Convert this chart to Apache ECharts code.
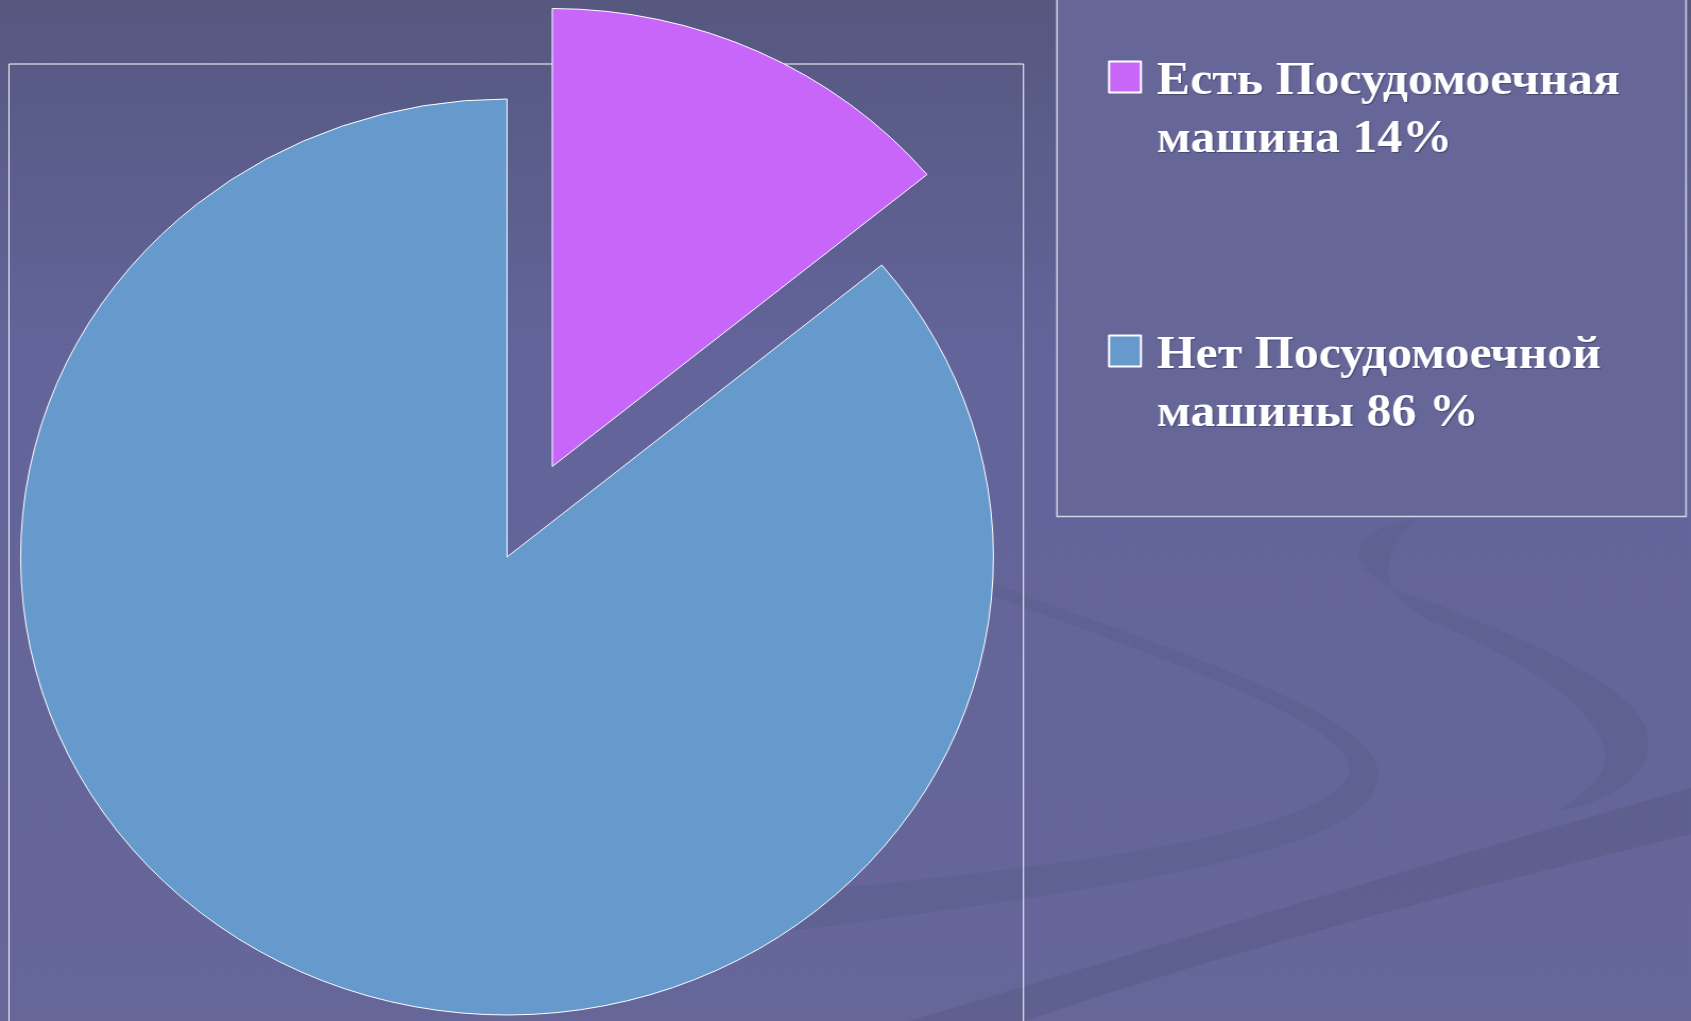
<!DOCTYPE html>
<html>
<head>
<meta charset="utf-8">
<script src="https://cdn.jsdelivr.net/npm/echarts@6/dist/echarts.min.js"></script>
<style>
  html, body { margin: 0; padding: 0; overflow: hidden; background: #62649a; }
  /* исходный слайд растянут по горизонтали, поэтому круг выглядит эллипсом */
  #chart { width: 1592px; height: 1021px; transform: scaleX(1.062); transform-origin: 0 0; }
</style>
</head>
<body>
<div id="chart"></div>
<script>
// данные диаграммы
const categories = ['Есть Посудомоечная машина', 'Нет Посудомоечной машины'];
const values = [14, 86];
const legendLines = [['Есть Посудомоечная', 'машина 14%'], ['Нет Посудомоечной', 'машины 86 %']];
const colors = ['#c966fa', '#6699cc'];

const sx = 1.062; // горизонтальное растяжение
const px = (x) => x / sx;

const myChart = echarts.init(document.getElementById('chart'), null, { renderer: 'canvas' });

const labelFont = {
  color: '#ffffff',
  fontFamily: 'Liberation Serif',
  fontWeight: 'bold',
  fontSize: 47,
  lineHeight: 58,
  textShadowColor: 'rgba(40,40,70,0.5)',
  textShadowOffsetX: 1,
  textShadowOffsetY: 1,
  textShadowBlur: 1
};

// фоновые "волны" слайда: простая разборка M/C/L в точки многоугольника (координаты экрана)
function pathPoints(d) {
  const t = d.trim().split(/[\s,]+/);
  const pts = [];
  let i = 0, cx = 0, cy = 0;
  while (i < t.length) {
    const cmd = t[i++];
    if (cmd === 'M' || cmd === 'L') {
      cx = +t[i++]; cy = +t[i++];
      pts.push([cx, cy]);
    } else if (cmd === 'C') {
      const a = [+t[i++], +t[i++], +t[i++], +t[i++], +t[i++], +t[i++]];
      for (let k = 1; k <= 24; k++) {
        const s = k / 24, u = 1 - s;
        pts.push([
          u * u * u * cx + 3 * u * u * s * a[0] + 3 * u * s * s * a[2] + s * s * s * a[4],
          u * u * u * cy + 3 * u * u * s * a[1] + 3 * u * s * s * a[3] + s * s * s * a[5]
        ]);
      }
      cx = a[4]; cy = a[5];
    }
  }
  return pts.map(p => [px(p[0]), p[1]]);
}

const swoosh = (d, alpha) => ({
  type: 'polygon', silent: true, z: -10,
  shape: { points: pathPoints(d) },
  style: { fill: 'rgba(82,84,125,' + alpha + ')' }
});

const option = {
  animation: false,
  backgroundColor: {
    type: 'linear', x: 0, y: 0, x2: 0, y2: 1,
    colorStops: [
      { offset: 0, color: '#565880' },
      { offset: 0.35, color: '#63649a' },
      { offset: 1, color: '#666699' }
    ]
  },
  graphic: [
    swoosh('M 880 1030 C 1050 980, 1300 900, 1691 788 L 1691 834 C 1400 905, 1150 975, 1000 1030 Z', 0.32),
    swoosh('M 991 583 C 1200 660, 1390 720, 1378 780 C 1365 850, 1150 885, 760 935 L 760 895 ' +
      'C 1100 865, 1330 830, 1350 772 C 1350 725, 1200 672, 991 595 Z', 0.2),
    swoosh('M 1420 518 C 1340 530, 1330 575, 1440 605 C 1520 640, 1660 690, 1648 750 ' +
      'C 1640 790, 1590 805, 1556 812 C 1590 790, 1610 770, 1605 750 C 1590 700, 1520 660, 1440 625 ' +
      'C 1380 600, 1370 560, 1420 518 Z', 0.2),
    // рамка области построения
    {
      type: 'rect', silent: true, z: -5,
      shape: { x: px(9), y: 64, width: px(1023.5) - px(9), height: 1000 },
      style: { fill: null, stroke: '#ffffff', lineWidth: 1 }
    },
    // рамка легенды
    {
      type: 'rect', silent: true, z: -5,
      shape: { x: px(1057), y: -5, width: px(1686) - px(1057), height: 521.5 },
      style: { fill: '#666699', stroke: '#d4d4e4', lineWidth: 1.5 }
    }
  ],
  legend: {
    orient: 'vertical',
    left: px(1108),
    top: -15,
    padding: 0,
    itemGap: 90,
    itemWidth: 30,
    itemHeight: 31,
    icon: 'rect',
    data: categories,
    // верхняя пустая строка сдвигает подпись так, чтобы значок стоял напротив первой строки
    formatter: (name) => {
      const lines = legendLines[categories.indexOf(name)];
      return '{s| }\n{a|' + lines[0] + '}\n{a|' + lines[1] + '}';
    },
    textStyle: Object.assign({}, labelFont, {
      padding: [0, 0, 0, 10],
      rich: {
        s: Object.assign({}, labelFont, { lineHeight: 68 }),
        a: Object.assign({}, labelFont)
      }
    })
  },
  series: [
    {
      type: 'pie',
      center: [px(507), 557],
      radius: 458,
      startAngle: 90,
      clockwise: true,
      selectedMode: 'single',
      selectedOffset: 100,
      label: { show: false },
      labelLine: { show: false },
      itemStyle: { borderColor: '#ffffff', borderWidth: 1 },
      data: categories.map((name, i) => ({
        name: name,
        value: values[i],
        selected: i === 0,
        itemStyle: { color: colors[i] },
        select: { itemStyle: { color: colors[i], borderColor: '#ffffff', borderWidth: 1 } }
      }))
    }
  ]
};

if (option && typeof option === 'object') {
  myChart.setOption(option);
}

window.addEventListener('resize', myChart.resize);
</script>
</body>
</html>
